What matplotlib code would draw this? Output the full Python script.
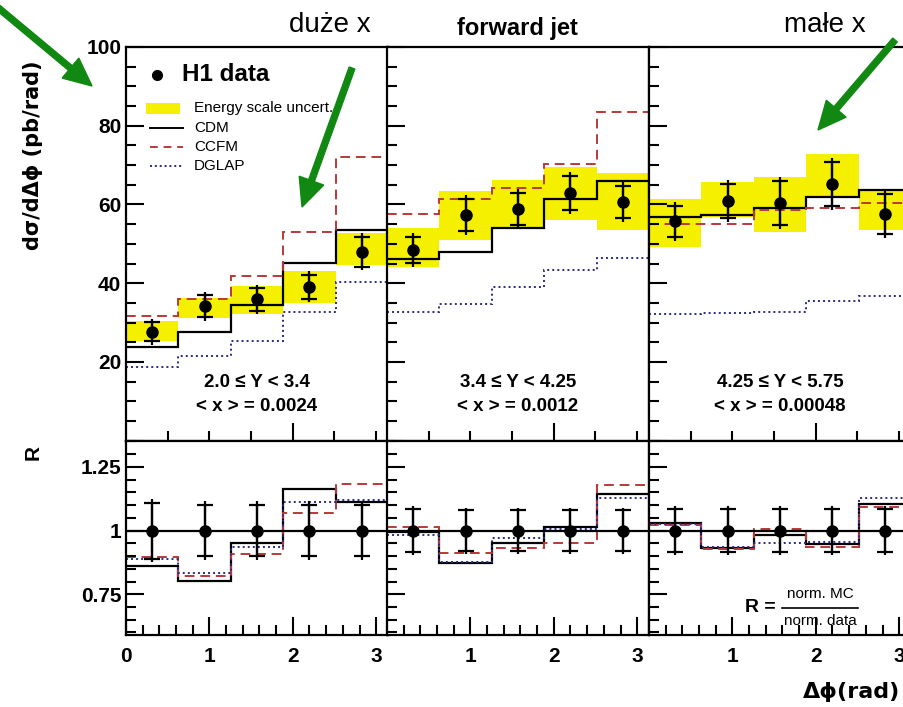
import numpy as np
import matplotlib
matplotlib.use("Agg")
import matplotlib.pyplot as plt
from matplotlib.patches import FancyArrow, Rectangle
from matplotlib.transforms import IdentityTransform

plt.rcParams['font.family'] = ['Liberation Sans', 'DejaVu Sans']

# bin edges in delta phi (5 bins from 0 to pi)
edges = [0.0, 0.628, 1.257, 1.885, 2.513, 3.1416]
centers = [0.314, 0.942, 1.571, 2.199, 2.827]

panel_y = ["2.0 \u2264 Y < 3.4", "3.4 \u2264 Y < 4.25", "4.25 \u2264 Y < 5.75"]
panel_x = ["< x > = 0.0024", "< x > = 0.0012", "< x > = 0.00048"]

# cross sections (pb/rad)
h1_data = [[27.7, 34.1, 35.9, 39.1, 48.0],
           [48.5, 57.4, 58.9, 63.0, 60.6],
           [55.7, 60.9, 60.3, 65.2, 57.5]]
h1_err_tot = [[3.3, 3.6, 3.7, 3.9, 4.7],
              [4.3, 5.1, 5.0, 5.3, 5.0],
              [5.0, 5.3, 6.6, 6.6, 6.1]]
h1_err_stat = [[2.5, 2.8, 2.9, 3.0, 3.8],
               [3.3, 4.1, 4.0, 4.3, 4.0],
               [4.0, 4.3, 5.6, 5.6, 5.1]]
escale_lo = [[25.4, 31.2, 32.2, 35.0, 44.6],
             [44.0, 51.0, 54.0, 56.0, 53.5],
             [49.3, 56.7, 52.9, 61.9, 53.5]]
escale_hi = [[30.4, 36.2, 39.2, 43.0, 52.7],
             [54.0, 63.3, 66.3, 69.6, 68.0],
             [61.3, 65.8, 67.1, 72.9, 63.7]]
cdm = [[23.9, 27.5, 34.5, 45.1, 53.5],
       [46.1, 48.0, 54.0, 61.3, 66.0],
       [56.8, 57.4, 59.1, 61.9, 63.7]]
ccfm = [[31.7, 35.9, 41.9, 53.0, 72.0],
        [57.6, 61.3, 64.1, 70.2, 83.4],
        [55.1, 55.1, 58.6, 59.1, 60.5]]
dglap = [[18.6, 21.6, 25.2, 32.8, 40.2],
         [32.8, 34.7, 39.1, 43.4, 46.5],
         [32.2, 32.5, 32.8, 35.5, 36.8]]

# ratios R = norm. MC / norm. data
r_err_tot = [[0.125, 0.115, 0.115, 0.115, 0.115],
             [0.095, 0.09, 0.09, 0.09, 0.09],
             [0.095, 0.095, 0.095, 0.095, 0.095]]
r_err_stat = [[0.11, 0.10, 0.10, 0.10, 0.10],
              [0.085, 0.08, 0.08, 0.08, 0.08],
              [0.085, 0.085, 0.085, 0.085, 0.085]]
r_cdm = [[0.861, 0.801, 0.951, 1.162, 1.114],
         [0.994, 0.873, 0.951, 1.013, 1.143],
         [1.029, 0.932, 0.981, 0.948, 1.106]]
r_ccfm = [[0.896, 0.822, 0.909, 1.071, 1.184],
          [1.013, 0.913, 0.931, 0.951, 1.179],
          [1.020, 0.928, 1.006, 0.935, 1.093]]
r_dglap = [[0.887, 0.834, 0.935, 1.113, 1.120],
           [0.984, 0.877, 0.970, 1.006, 1.127],
           [1.025, 0.935, 0.951, 0.955, 1.127]]

RED = '#b83a3a'
BLUE = '#2a2a80'
YEL = '#f4f000'

W, H = 904, 707
fig = plt.figure(figsize=(W / 100, H / 100), dpi=100)

lefts = [126, 387, 649]
pw = 262
top_y0, top_y1 = 47, 440.7
bot_y1 = 635


def fx(px):
    return px / W


def fy(py):
    return 1 - py / H


def style_axis(ax):
    for s in ax.spines.values():
        s.set_linewidth(1.6)
    ax.tick_params(which='both', direction='in', width=1.5, top=False, right=False,
                   labelsize=15)
    ax.tick_params(which='major', length=13)
    ax.tick_params(which='minor', length=7)
    for lab in ax.get_xticklabels() + ax.get_yticklabels():
        lab.set_fontweight('bold')


for i in range(3):
    # upper panel: cross section
    ax = fig.add_axes([fx(lefts[i]), fy(top_y1), pw / W, (top_y1 - top_y0) / H])
    ax.stairs(escale_hi[i], edges, baseline=escale_lo[i], fill=True,
              color=YEL, lw=0)
    ax.stairs(cdm[i], edges, baseline=None, color='black', lw=1.6)
    ax.stairs(ccfm[i], edges, baseline=None, color=RED, lw=1.4, ls=(0, (5, 3)))
    ax.stairs(dglap[i], edges, baseline=None, color=BLUE, lw=1.4, ls=(0, (1, 1.6)))
    ax.errorbar(centers, h1_data[i], yerr=h1_err_tot[i], fmt='none',
                ecolor='black', elinewidth=1.6)
    ax.errorbar(centers, h1_data[i], yerr=h1_err_stat[i], fmt='o', color='black',
                ms=8, elinewidth=1.6, capsize=6, capthick=1.6)
    ax.set_xlim(0, np.pi)
    ax.set_ylim(0, 100)
    ax.set_xticks([2])
    ax.set_xticks([0.5, 1, 1.5, 2.5, 3], minor=True)
    ax.set_xticklabels([])
    ax.set_yticks([0, 20, 40, 60, 80, 100])
    ax.set_yticks(np.arange(0, 101, 5), minor=True)
    if i == 0:
        ax.set_yticklabels(['', '20', '40', '60', '80', '100'])
    else:
        ax.set_yticklabels([])
    style_axis(ax)
    ax.text(0.5, 0.147, panel_y[i], transform=ax.transAxes, ha='center', va='center',
            fontsize=13.5, fontweight='bold')
    ax.text(0.5, 0.086, panel_x[i], transform=ax.transAxes, ha='center', va='center',
            fontsize=13.5, fontweight='bold')

    if i == 0:
        # legend drawn by hand
        ax.plot([0.119], [0.929], 'o', color='black', ms=7, transform=ax.transAxes)
        ax.text(0.215, 0.929, 'H1 data', transform=ax.transAxes, va='center',
                fontsize=17.5, fontweight='bold')
        ax.add_patch(Rectangle((0.075, 0.830), 0.13, 0.027, transform=ax.transAxes,
                               color=YEL, lw=0))
        ax.text(0.26, 0.845, 'Energy scale uncert.', transform=ax.transAxes,
                va='center', fontsize=11)
        ax.plot([0.09, 0.218], [0.794, 0.794], color='black', lw=1.4,
                transform=ax.transAxes)
        ax.text(0.26, 0.794, 'CDM', transform=ax.transAxes, va='center', fontsize=11)
        ax.plot([0.09, 0.218], [0.746, 0.746], color=RED, lw=1.4, ls=(0, (4, 3)),
                transform=ax.transAxes)
        ax.text(0.26, 0.746, 'CCFM', transform=ax.transAxes, va='center', fontsize=11)
        ax.plot([0.09, 0.218], [0.697, 0.697], color=BLUE, lw=1.4, ls=(0, (1, 1.5)),
                transform=ax.transAxes)
        ax.text(0.26, 0.697, 'DGLAP', transform=ax.transAxes, va='center', fontsize=11)

    # lower panel: ratio
    bx = fig.add_axes([fx(lefts[i]), fy(bot_y1), pw / W, (bot_y1 - top_y1) / H])
    bx.axhline(1, color='black', lw=1.6)
    bx.stairs(r_cdm[i], edges, baseline=None, color='black', lw=1.6)
    bx.stairs(r_ccfm[i], edges, baseline=None, color=RED, lw=1.4, ls=(0, (5, 3)))
    bx.stairs(r_dglap[i], edges, baseline=None, color=BLUE, lw=1.4, ls=(0, (1, 1.6)))
    ones = [1, 1, 1, 1, 1]
    bx.errorbar(centers, ones, yerr=r_err_tot[i], fmt='none', ecolor='black',
                elinewidth=1.6)
    bx.errorbar(centers, ones, yerr=r_err_stat[i], fmt='o', color='black', ms=8,
                elinewidth=1.6, capsize=6, capthick=1.6)
    bx.set_xlim(0, np.pi)
    bx.set_ylim(0.59, 1.353)
    bx.set_xticks([0, 1, 2, 3])
    bx.set_xticks(np.arange(0, 3.15, 0.2), minor=True)
    bx.set_yticks([0.75, 1, 1.25])
    bx.set_yticks(np.arange(0.6, 1.351, 0.05), minor=True)
    if i == 0:
        bx.set_xticklabels(['0', '1', '2', '3'])
        bx.set_yticklabels(['0.75', '1', '1.25'])
    else:
        bx.set_xticklabels(['', '1', '2', '3'])
        bx.set_yticklabels([])
    style_axis(bx)
    bx.tick_params(axis='x', pad=9)

# R = norm. MC / norm. data
fig.text(fx(760), fy(608), 'R =', ha='center', va='center', fontsize=14,
         fontweight='bold')
fig.text(fx(820), fy(594), 'norm. MC', ha='center', va='center', fontsize=11)
fig.text(fx(820), fy(621), 'norm. data', ha='center', va='center', fontsize=11)
fig.add_artist(plt.Line2D([fx(782), fx(858)], [fy(608), fy(608)], color='black', lw=1.2))

fig.text(fx(33), fy(155), 'd\u03c3/d\u0394\u03d5 (pb/rad)', rotation=90, ha='center',
         va='center', fontsize=15, fontweight='bold', family=['DejaVu Sans'])
fig.text(fx(33), fy(452), 'R', rotation=90, ha='center', va='center', fontsize=15,
         fontweight='bold')
fig.text(fx(900), fy(692), '\u0394\u03d5(rad)', ha='right', va='center', fontsize=16,
         fontweight='bold', family=['DejaVu Sans'])
fig.text(fx(517), fy(28), 'forward jet', ha='center', va='center', fontsize=17,
         fontweight='bold')
fig.text(fx(330), fy(25), 'du\u017ce x', ha='center', va='center', fontsize=20)
fig.text(fx(825), fy(25), 'ma\u0142e x', ha='center', va='center', fontsize=20)

# green arrows (pixel coordinates, y measured from bottom)
GREEN = '#118811'
for (x0, y0, x1, y1) in [(-4, 6, 92, 86), (352, 68, 302, 207), (895, 40, 818, 130)]:
    arr = FancyArrow(x0, H - y0, x1 - x0, -(y1 - y0), width=6, head_width=26,
                     head_length=28, length_includes_head=True, color=GREEN,
                     transform=IdentityTransform())
    fig.add_artist(arr)

fig.savefig('out.png', dpi=100)
